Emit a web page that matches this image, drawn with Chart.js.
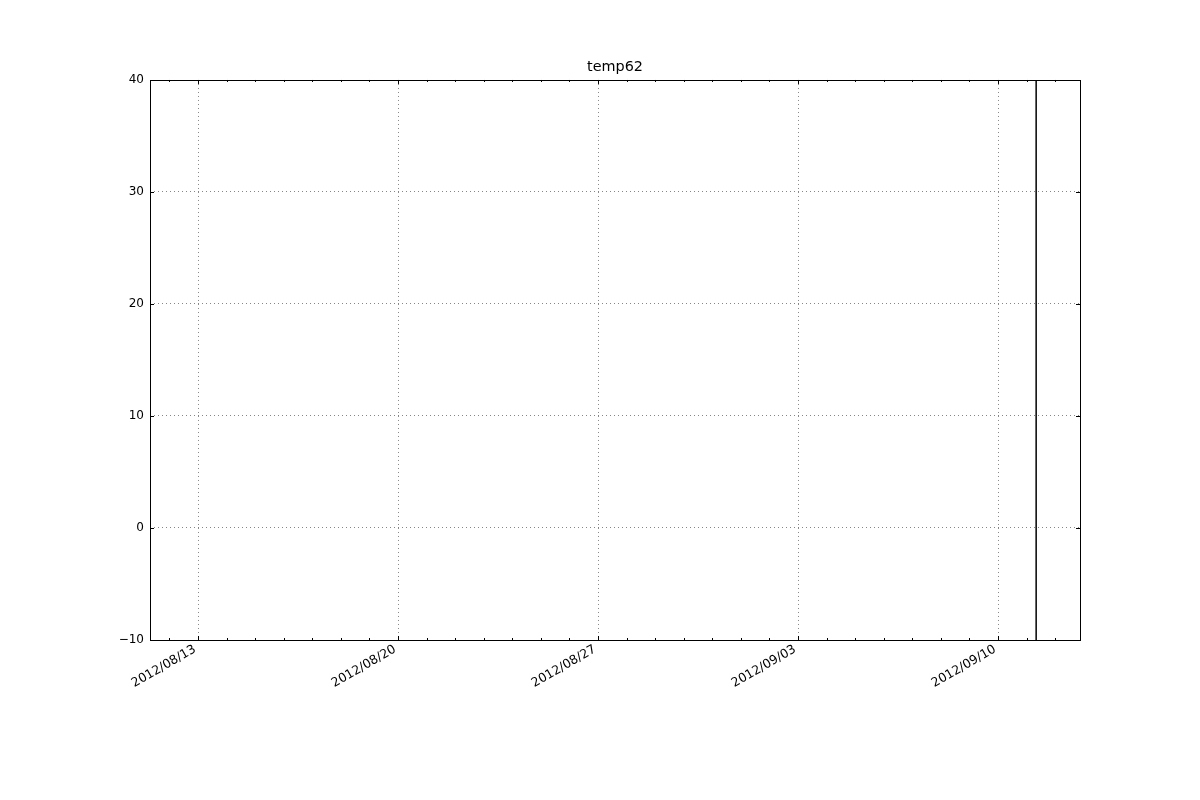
<!DOCTYPE html>
<html>
<head>
<meta charset="utf-8">
<style>
  html, body { margin: 0; padding: 0; background: #ffffff; }
  #wrap { width: 1200px; height: 800px; }
</style>
<script src="https://cdn.jsdelivr.net/npm/chart.js@4/dist/chart.umd.min.js"></script>
</head>
<body>
<div id="wrap"><canvas id="c" width="1200" height="800"></canvas></div>
<script>
// ---- data ----
const chartTitle = 'temp62';
const seriesTimes = ['2012-09-11T08:00:00Z', '2012-09-11T08:00:00Z'];
const seriesValues = [-10, 40];
const xTickDates = ['2012-08-13', '2012-08-20', '2012-08-27', '2012-09-03', '2012-09-10'];
const xRange = ['2012-08-11T07:40:00Z', '2012-09-12T20:50:00Z'];
const yTicks = [-10, 0, 10, 20, 30, 40];

const DAY = 86400000;
const toMs = s => Date.parse(s.length === 10 ? s + 'T00:00:00Z' : s);
const pad2 = n => (n < 10 ? '0' : '') + n;
const fmtDate = ms => { const d = new Date(ms); return d.getUTCFullYear() + '/' + pad2(d.getUTCMonth() + 1) + '/' + pad2(d.getUTCDate()); };

const points = seriesTimes.map((t, i) => ({ x: toMs(t), y: seriesValues[i] }));
const xMin = toMs(xRange[0]), xMax = toMs(xRange[1]);
const majorX = xTickDates.map(toMs);
const yMin = yTicks[0], yMax = yTicks[yTicks.length - 1];

const FONT = "'DejaVu Sans', sans-serif";
const GRID = 'rgba(0,0,0,0.6)';

const mplTicks = {
  id: 'mplTicks',
  afterDatasetsDraw(chart) {
    const { ctx, chartArea: a, scales: { x, y } } = chart;
    ctx.save();
    ctx.strokeStyle = '#000';
    ctx.lineWidth = 1;
    ctx.beginPath();
    const start = Math.ceil(x.min / DAY) * DAY;
    for (let t = start; t <= x.max; t += DAY) {
      const px = Math.round(x.getPixelForValue(t)) + 0.5;
      const len = majorX.includes(t) ? 4 : 2;
      ctx.moveTo(px, a.bottom); ctx.lineTo(px, a.bottom - len);
      ctx.moveTo(px, a.top); ctx.lineTo(px, a.top + len);
    }
    yTicks.forEach(v => {
      const py = Math.round(y.getPixelForValue(v)) + 0.5;
      ctx.moveTo(a.left, py); ctx.lineTo(a.left + 4, py);
      ctx.moveTo(a.right, py); ctx.lineTo(a.right - 4, py);
    });
    ctx.stroke();
    ctx.strokeRect(Math.round(a.left) + 0.5, Math.round(a.top) + 0.5, Math.round(a.right - a.left), Math.round(a.bottom - a.top));
    ctx.restore();
  }
};

new Chart(document.getElementById('c'), {
  type: 'line',
  data: {
    datasets: [{
      data: points,
      borderColor: '#000000',
      borderWidth: 1.5,
      pointRadius: 0,
      fill: false,
      tension: 0
    }]
  },
  options: {
    responsive: false,
    animation: false,
    devicePixelRatio: 1,
    layout: { padding: { left: 0, right: 120, top: 0, bottom: 0 } },
    plugins: {
      legend: { display: false },
      tooltip: { enabled: false },
      title: {
        display: true,
        text: chartTitle,
        fullSize: false,
        color: '#000',
        font: { family: FONT, size: 14.4, weight: 'normal', lineHeight: 1.2 },
        padding: { top: 58.2, bottom: 4.5 }
      }
    },
    scales: {
      x: {
        type: 'linear',
        min: xMin,
        max: xMax,
        afterBuildTicks: s => { s.ticks = majorX.map(v => ({ value: v })); },
        afterFit: s => { s.height = 160; },
        grid: {
          drawTicks: false,
          color: GRID,
          lineWidth: 0.8
        },
        border: { display: false, dash: [1, 3] },
        ticks: {
          color: '#000',
          font: { family: FONT, size: 12.5 },
          minRotation: 30,
          maxRotation: 30,
          padding: 2,
          labelOffset: -3,
          autoSkip: false,
          callback: v => fmtDate(v)
        }
      },
      y: {
        type: 'linear',
        min: yMin,
        max: yMax,
        afterBuildTicks: s => { s.ticks = yTicks.map(v => ({ value: v })); },
        afterFit: s => { s.width = 150; },
        grid: {
          drawTicks: false,
          color: ctx => (ctx.tick && (ctx.tick.value === yMin || ctx.tick.value === yMax)) ? 'rgba(0,0,0,0)' : GRID,
          lineWidth: 0.8
        },
        border: { display: false, dash: [1, 3] },
        ticks: {
          color: '#000',
          font: { family: FONT, size: 12 },
          padding: 6,
          callback: v => String(v).replace('-', '\u2212')
        }
      }
    }
  },
  plugins: [mplTicks]
});
</script>
</body>
</html>
